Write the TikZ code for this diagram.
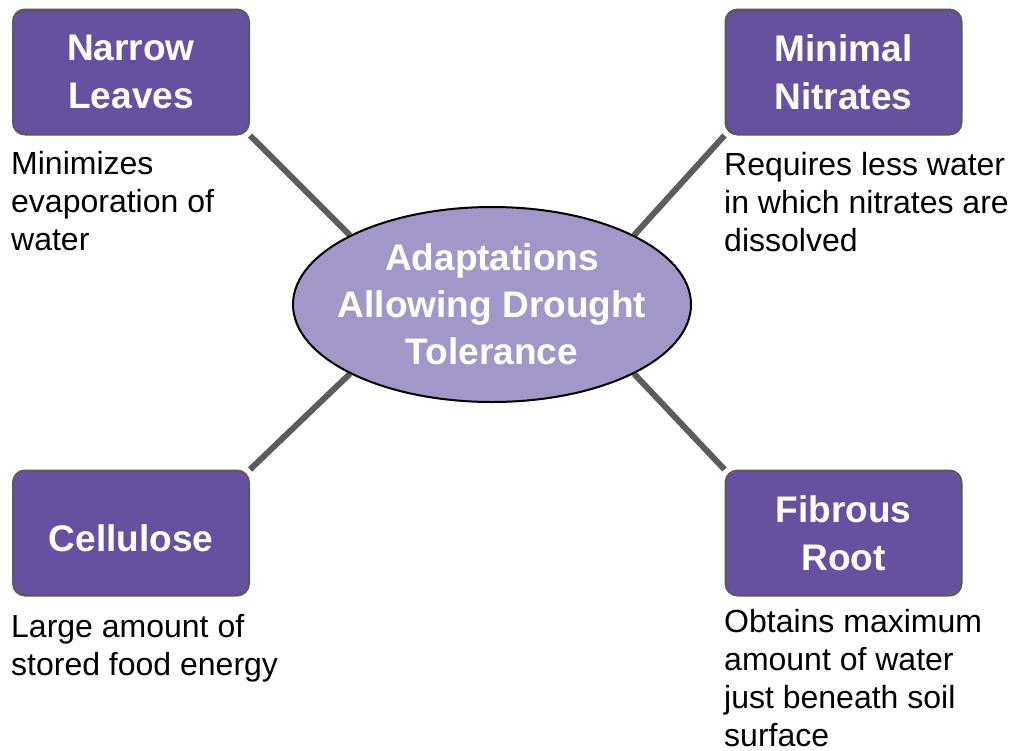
\documentclass[tikz,border=0pt]{standalone}
\usepackage{fontspec}
\setmainfont{Liberation Sans}
\usetikzlibrary{shapes.geometric,backgrounds}

\definecolor{boxfill}{RGB}{103,80,160}
\definecolor{boxline}{RGB}{90,90,90}
\definecolor{hubfill}{RGB}{163,150,200}
\definecolor{linkgray}{RGB}{92,92,94}

\tikzset{
  topic/.style={draw=boxline, line width=2pt, fill=boxfill, rounded corners=12pt,
    minimum width=236pt, minimum height=125pt, inner sep=0pt, text=white,
    align=center, font=\fontsize{37}{48}\selectfont\bfseries},
  hub/.style={ellipse, draw=black, line width=2pt, fill=hubfill,
    minimum width=398pt, minimum height=195pt, inner sep=0pt},
  hubtext/.style={inner sep=0pt, text=white, align=center,
    font=\fontsize{37}{47}\selectfont\bfseries},
  note/.style={anchor=north west, inner sep=0pt, align=left,
    font=\fontsize{32}{38}\selectfont},
  link/.style={draw=linkgray, line width=6pt}
}

\begin{document}
\begin{tikzpicture}[x=1pt,y=-1pt]
\useasboundingbox (0,0) rectangle (1014,750);

% central idea: fixed-size ellipse with its title on top
\node[hub] (ell) at (492,304.5) {};
\node[hubtext] (elltext) at (ell.center) {Adaptations\\Allowing Drought\\Tolerance};

% the four adaptations
\node[topic] (nl) at (131,72) {Narrow\\Leaves};
\node[topic] (mn) at (843.5,72) {Minimal\\Nitrates};
\node[topic, text height=36pt, text depth=0pt] (ce) at (131,533) {Cellulose};
\node[topic] (fr) at (843.5,533) {Fibrous\\Root};

% explanations below each box (top = baseline - strut height)
\node[note] (nlt) at (11,147.4) {\strut Minimizes\\evaporation of\\water};
\node[note] (mnt) at (724,148.4) {\strut Requires less water\\in which nitrates are\\dissolved};
\node[note] (cet) at (11,610.4) {\strut Large amount of\\stored food energy};
\node[note] (frt) at (724,605.4) {\strut Obtains maximum\\amount of water\\just beneath soil\\surface};

% connectors, kept behind the shapes
\begin{scope}[on background layer]
  \fill[white] (0,0) rectangle (1014,750);
  \draw[link] (nl.south east) -- (ell.154);
  \draw[link] (mn.south west) -- (ell.26);
  \draw[link] (ce.north east) -- (ell.206);
  \draw[link] (fr.north west) -- (ell.334);
\end{scope}
\end{tikzpicture}
\end{document}
